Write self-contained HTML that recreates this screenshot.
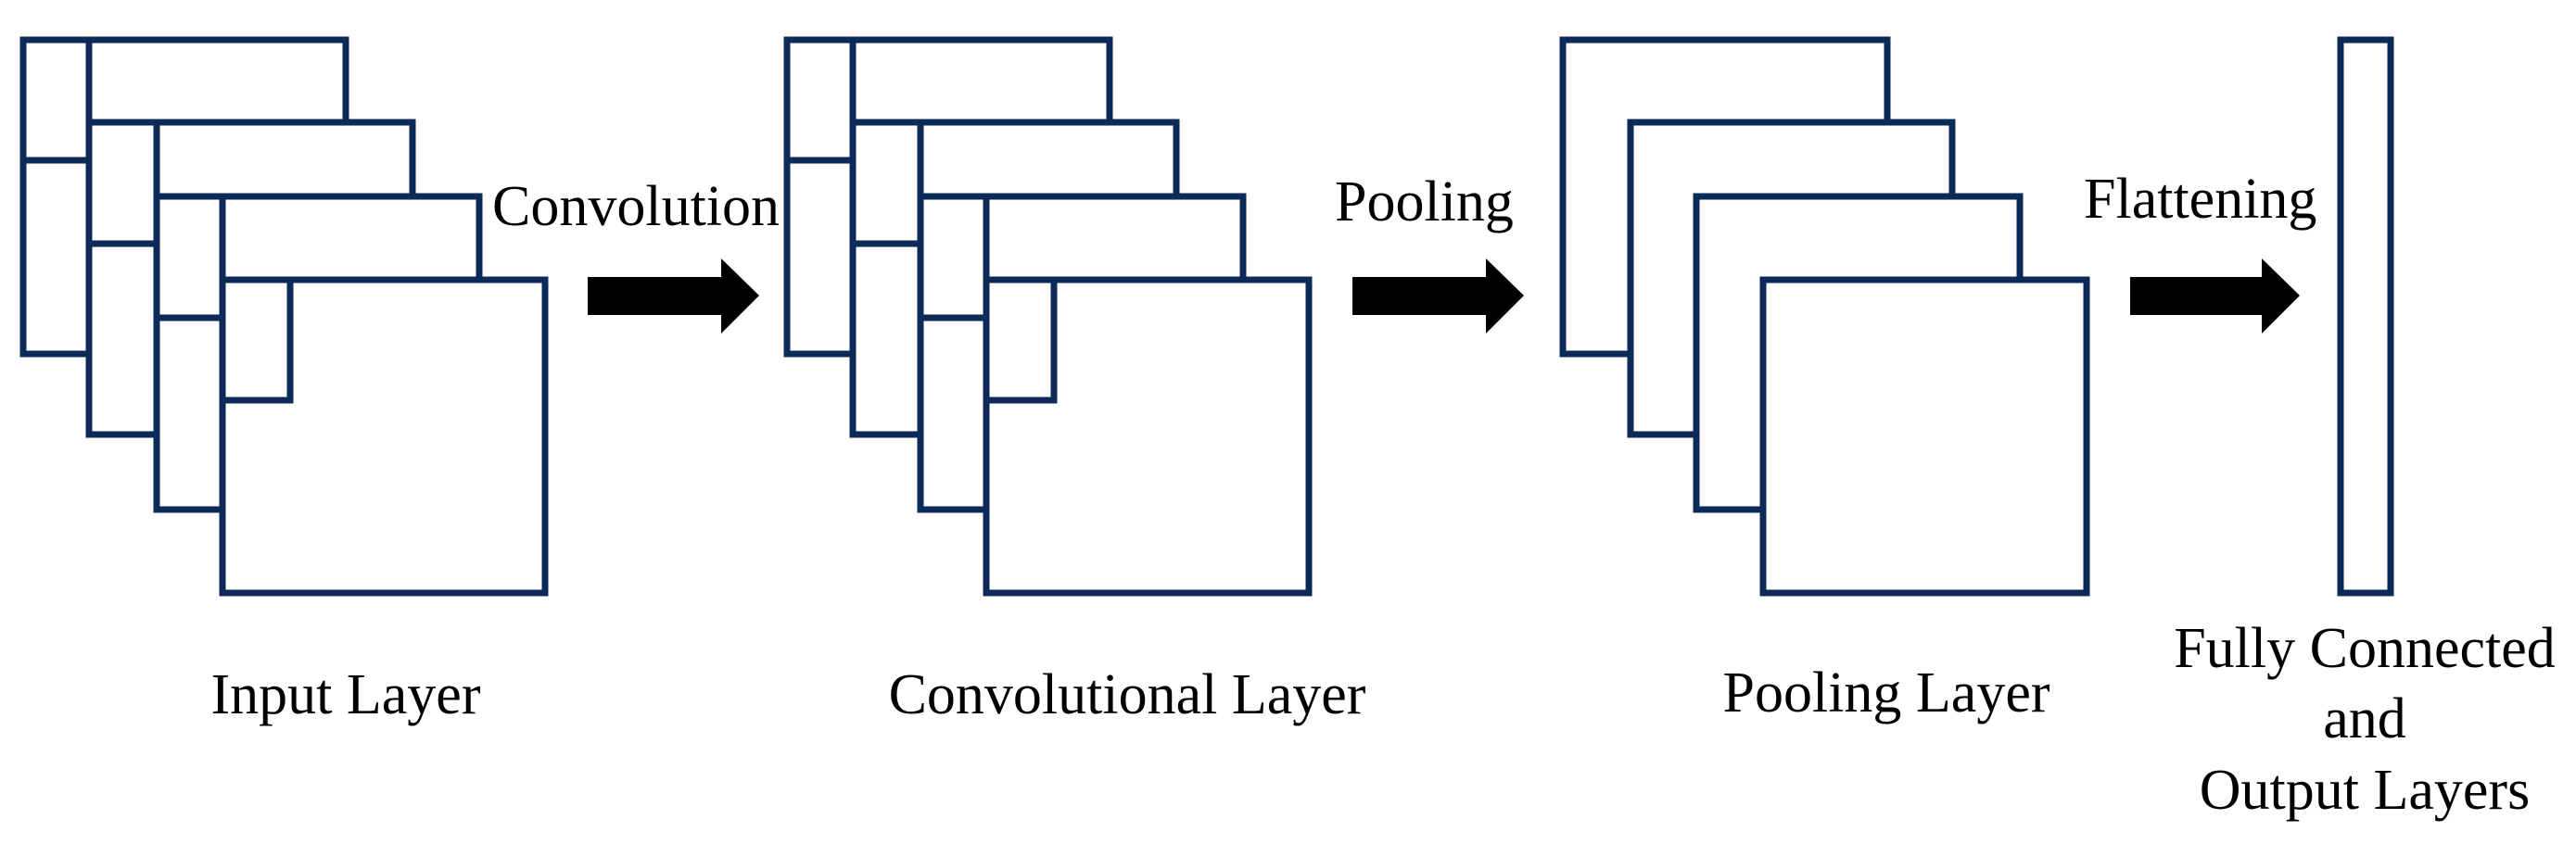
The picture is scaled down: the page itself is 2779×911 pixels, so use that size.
<!DOCTYPE html>
<html><head><meta charset="utf-8"><style>
html,body{margin:0;padding:0;background:#fff;}
svg{display:block}
text{font-family:"Liberation Serif",serif;font-size:62px;fill:#000}
</style></head><body>
<svg width="2779" height="911" viewBox="0 0 2779 911" xmlns="http://www.w3.org/2000/svg">
<defs>
<g id="stack" fill="#fff" stroke="#0c2a57" stroke-width="7">
  <rect x="25" y="43" width="348" height="339"/>
  <line x1="25" y1="173" x2="96" y2="173"/>
  <line x1="96" y1="43" x2="96" y2="132"/>
  <rect x="96" y="132" width="349" height="337"/>
  <line x1="96" y1="263" x2="169" y2="263"/>
  <line x1="169" y1="132" x2="169" y2="212"/>
  <rect x="169" y="212" width="348" height="338"/>
  <line x1="169" y1="343" x2="240" y2="343"/>
  <line x1="240" y1="212" x2="240" y2="302"/>
  <rect x="240" y="302" width="348" height="338"/>
  <polyline fill="none" points="313,302 313,432 240,432"/>
</g>
<path id="arrow" d="M634 299 H778 V279 L819 319 L778 360 V340 H634 Z" fill="#000"/>
</defs>
<use href="#stack"/>
<use href="#stack" transform="translate(824,0)"/>
<use href="#arrow"/>
<use href="#arrow" transform="translate(825,0)"/>
<path d="M2298 299 H2440 V279 L2481 319 L2440 360 V340 H2298 Z" fill="#000"/>
<g fill="#fff" stroke="#0c2a57" stroke-width="7">
  <rect x="1686" y="43" width="350" height="339"/>
  <rect x="1759" y="132" width="347" height="337"/>
  <rect x="1830" y="212" width="349" height="338"/>
  <rect x="1902" y="302" width="349" height="338"/>
  <rect x="2525" y="43" width="54" height="597"/>
</g>
<text x="531" y="243">Convolution</text>
<text x="1440" y="238">Pooling</text>
<text x="2248" y="235">Flattening</text>
<text x="373" y="770" text-anchor="middle">Input Layer</text>
<text x="1216" y="770" text-anchor="middle">Convolutional Layer</text>
<text x="2035" y="768" text-anchor="middle">Pooling Layer</text>
<text x="2551" y="720" text-anchor="middle">Fully Connected</text>
<text x="2551" y="796" text-anchor="middle">and</text>
<text x="2551" y="873" text-anchor="middle">Output Layers</text>
</svg>
</body></html>
